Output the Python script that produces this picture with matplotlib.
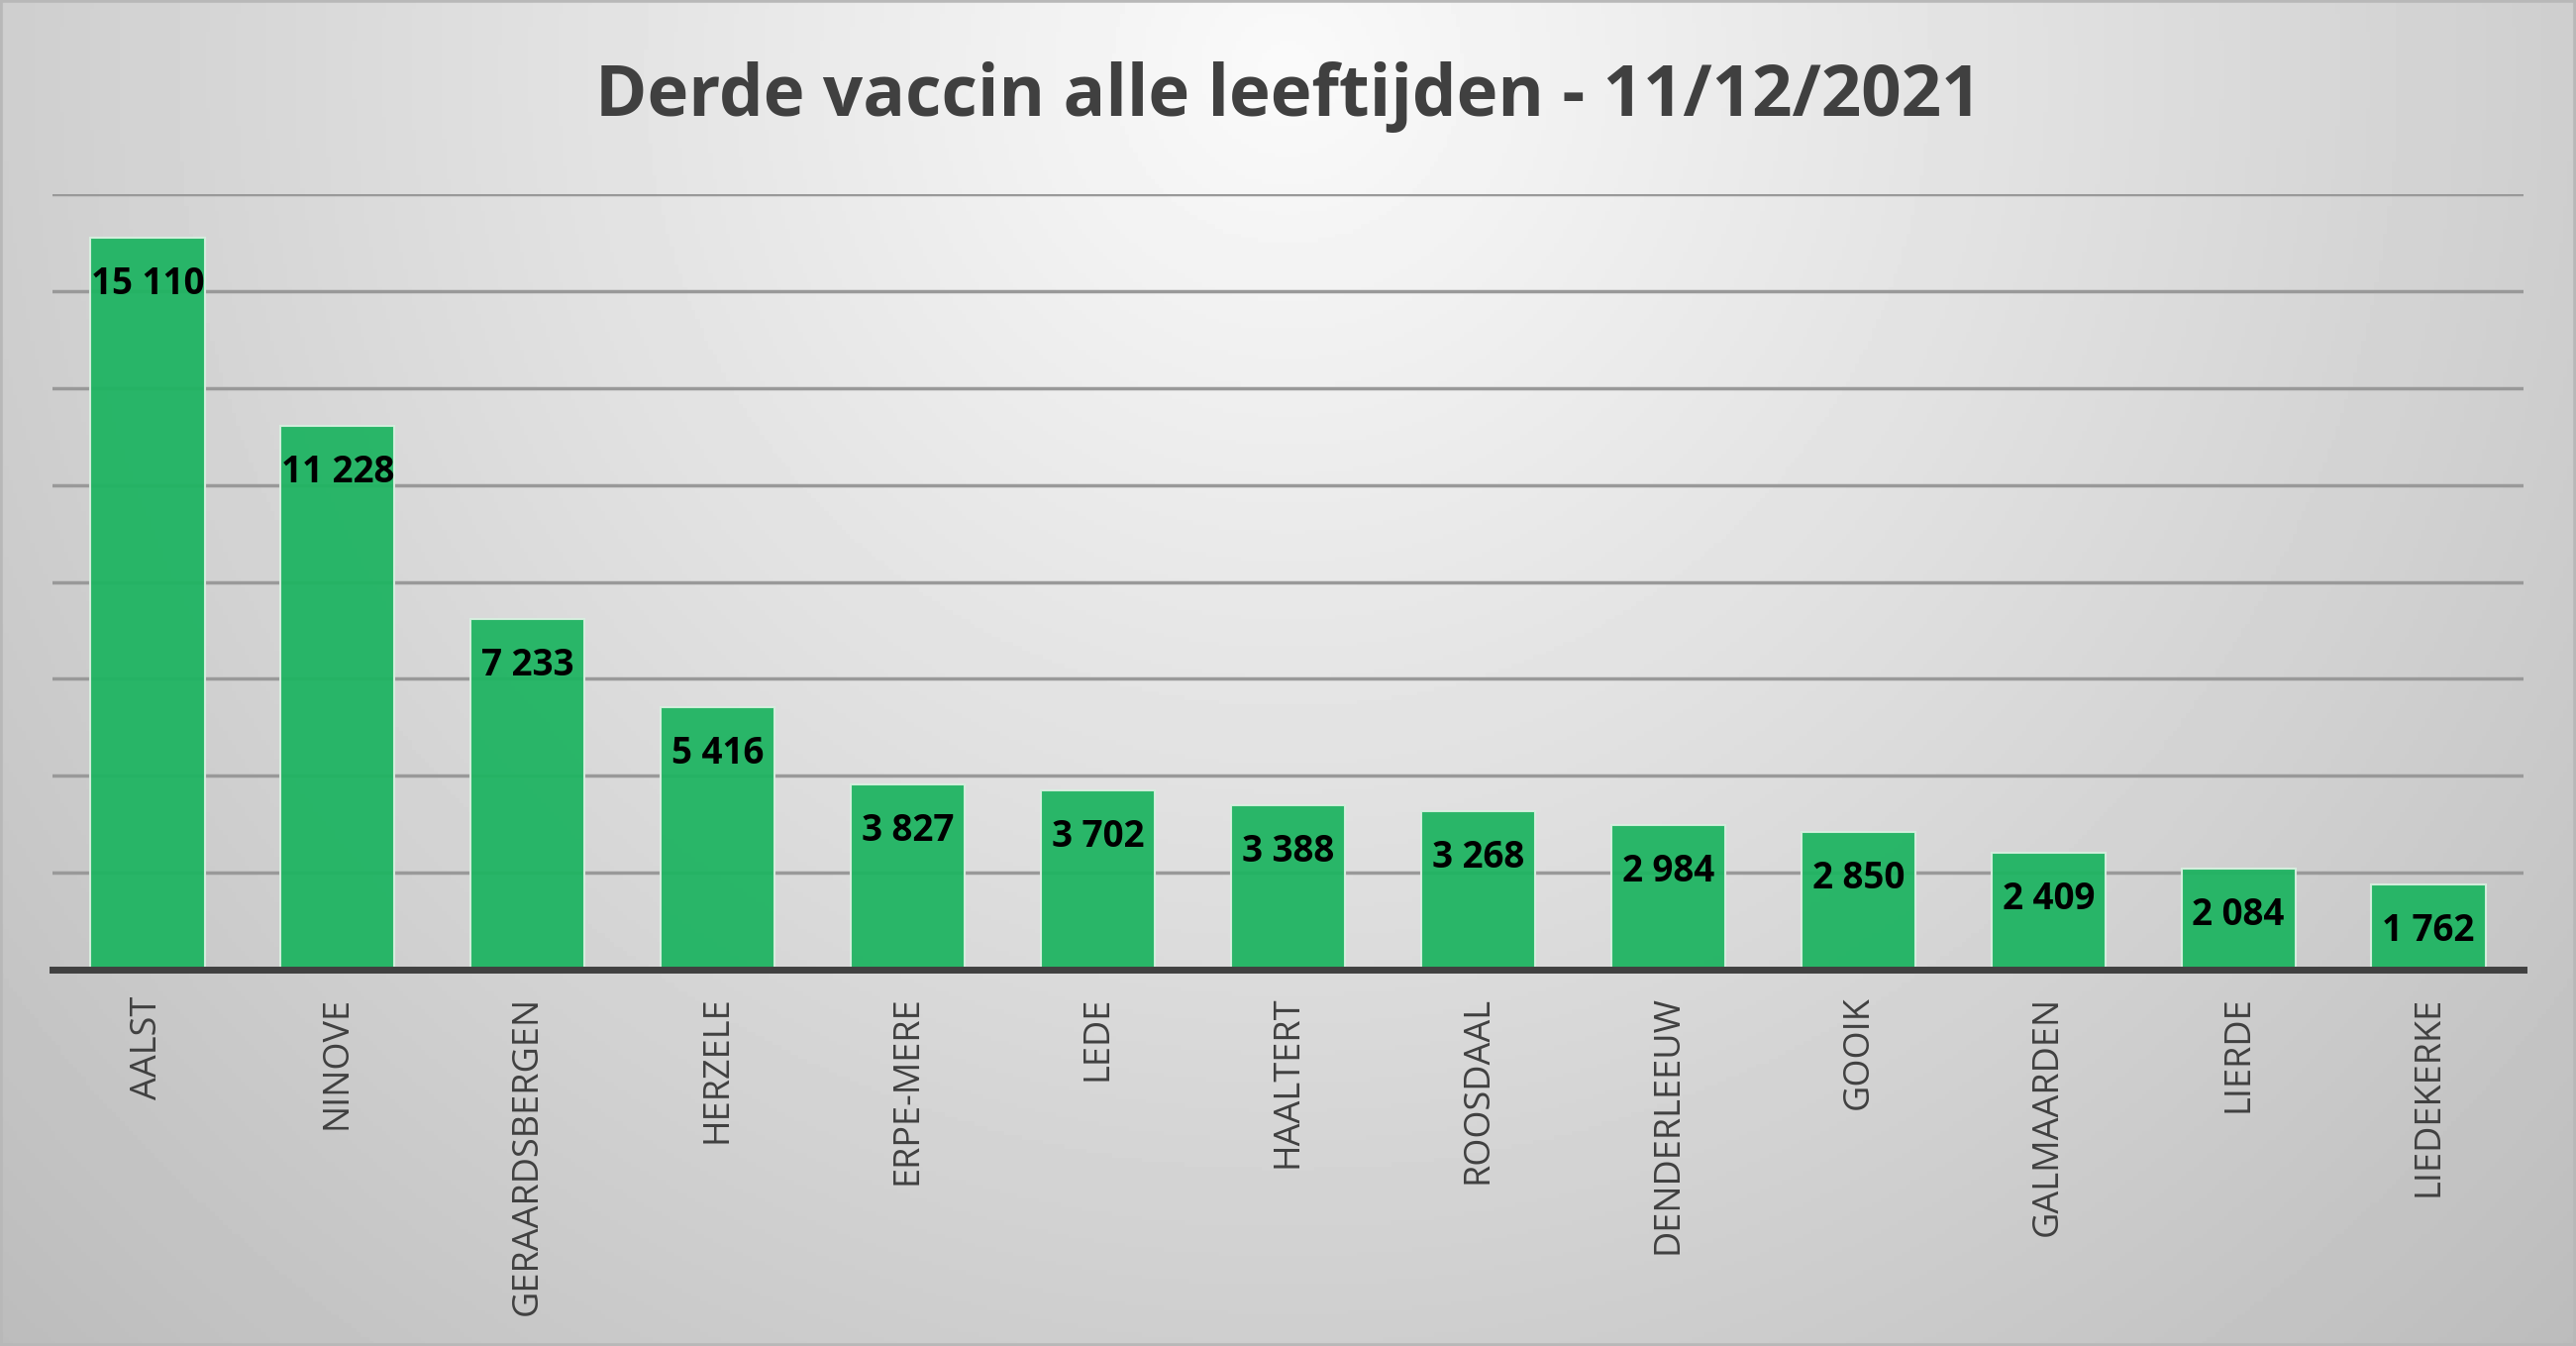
import matplotlib.pyplot as plt
import numpy as np
from matplotlib.patches import Rectangle

# Data
gemeenten = ['AALST', 'NINOVE', 'GERAARDSBERGEN', 'HERZELE', 'ERPE-MERE', 'LEDE',
             'HAALTERT', 'ROOSDAAL', 'DENDERLEEUW', 'GOOIK', 'GALMAARDEN',
             'LIERDE', 'LIEDEKERKE']
derde_vaccin = [15110, 11228, 7233, 5416, 3827, 3702, 3388, 3268, 2984, 2850,
                2409, 2084, 1762]
titel = 'Derde vaccin alle leeftijden - 11/12/2021'

W, H, DPI = 2601, 1359, 100
fig = plt.figure(figsize=(W / DPI, H / DPI), dpi=DPI)

# Radial grey background (white near the title, darker to the corners)
bg = fig.add_axes([0, 0, 1, 1], zorder=-10)
yy, xx = np.mgrid[0:1:300j, 0:1:600j]
r = np.sqrt(((xx - 0.5) / 0.5) ** 2 + ((yy - 0.05) / 0.95) ** 2) / np.sqrt(2)
grey = np.clip(250 - 62 * r, 0, 255) / 255.0
bg.imshow(grey, cmap='gray', vmin=0, vmax=1, aspect='auto', extent=[0, 1, 1, 0])
bg.set_xlim(0, 1)
bg.set_ylim(1, 0)
bg.axis('off')
fig.patches.append(Rectangle((0, 0), 1, 1, transform=fig.transFigure, fill=False,
                             edgecolor='#b8b8b8', linewidth=4))

ax = fig.add_axes([53 / W, 1 - 979 / H, (2548 - 53) / W, (979 - 196) / H])
ax.set_facecolor('none')

x = np.arange(len(gemeenten))
bars = ax.bar(x, derde_vaccin, width=0.6, color='#1fb462', alpha=0.95,
              edgecolor='#d8f0e0', linewidth=1.5, zorder=3)

ax.set_xlim(-0.5, len(gemeenten) - 0.5)
ax.set_ylim(0, 16000)
ax.set_yticks(np.arange(2000, 16001, 2000))
ax.yaxis.grid(True, color='#999999', linewidth=2.5, zorder=0)
ax.set_axisbelow(True)
ax.tick_params(axis='y', left=False, labelleft=False)

for side in ['top', 'right', 'left']:
    ax.spines[side].set_visible(False)
ax.spines['bottom'].set_color('#404040')
ax.spines['bottom'].set_linewidth(5)
ax.spines['bottom'].set_zorder(5)

ax.set_xticks(x)
ax.set_xticklabels(gemeenten, rotation=90, fontsize=26, color='#404040',
                   family=['Open Sans', 'DejaVu Sans'])
ax.tick_params(axis='x', length=0, pad=19)

# Value labels inside the top of each bar
for xi, v in zip(x, derde_vaccin):
    label = f'{v:,}'.replace(',', ' ')
    ax.annotate(label, (xi, v), xytext=(0, -34), textcoords='offset points',
                ha='center', va='center', fontsize=26.5, fontweight='bold',
                color='black', family=['Open Sans', 'DejaVu Sans'], zorder=6)

fig.text(0.5, 1 - 98 / H, titel, ha='center', va='center', fontsize=51,
         fontweight='bold', color='#404040',
         family=['Open Sans', 'DejaVu Sans'])

fig.savefig('out.png', dpi=DPI)
